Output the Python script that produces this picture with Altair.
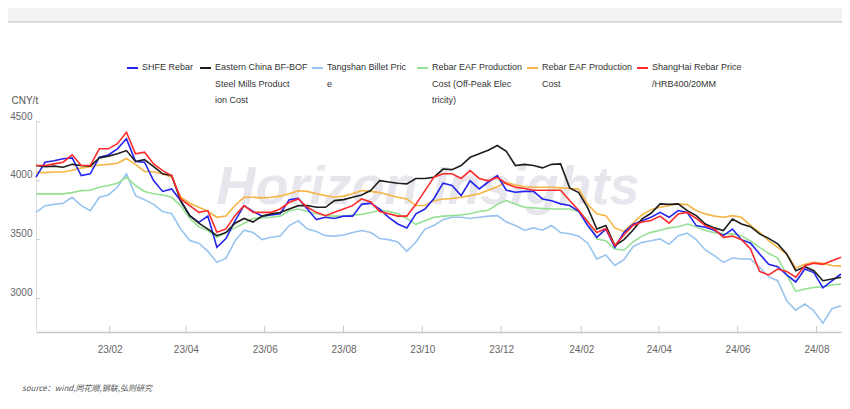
import altair as alt
import pandas as pd

# ---------------- data (weekly readings) ----------------
dates = pd.date_range("2022-12-06", periods=90, freq="7D").strftime("%Y-%m-%d").tolist()

shfe_rebar = [
    4031, 4158, 4170, 4187, 4195, 4045, 4060, 4201, 4220, 4272,
    4357, 4165, 4158, 4002, 3910, 3931, 3830, 3704, 3647, 3700,
    3435, 3509, 3660, 3790, 3740, 3700, 3710, 3720, 3840, 3850,
    3760, 3670, 3690, 3680, 3700, 3700, 3800, 3810, 3760, 3690,
    3633, 3600, 3720, 3760, 3850, 3980, 3960, 3874, 4000, 3931,
    3990, 4045, 3920, 3903, 3910, 3910, 3846, 3830, 3804, 3790,
    3740, 3620, 3520, 3590, 3435, 3560, 3630, 3660, 3690, 3732,
    3690, 3747, 3730, 3619, 3605, 3580, 3534, 3590, 3500, 3470,
    3378, 3290, 3270, 3200, 3140, 3250, 3220, 3090, 3150, 3208]

eastern_cost = [
    4130, 4120, 4125, 4116, 4140, 4130, 4125, 4195, 4210, 4230,
    4257, 4165, 4180, 4120, 4060, 4045, 3830, 3704, 3640, 3590,
    3534, 3560, 3640, 3680, 3650, 3700, 3719, 3730, 3760, 3789,
    3790, 3775, 3775, 3832, 3840, 3860, 3880, 3917, 4002, 3990,
    3980, 3974, 4020, 4020, 4031, 4100, 4095, 4130, 4200, 4230,
    4260, 4300, 4250, 4130, 4140, 4130, 4110, 4140, 4144, 3940,
    3900, 3770, 3590, 3620, 3449, 3500, 3580, 3676, 3724, 3804,
    3800, 3804, 3747, 3704, 3633, 3600, 3577, 3676, 3633, 3610,
    3549, 3511, 3464, 3378, 3236, 3270, 3236, 3151, 3165, 3180]

tangshan_billet = [
    3732, 3789, 3800, 3810, 3860, 3789, 3747, 3860, 3880, 3945,
    4060, 3874, 3840, 3800, 3740, 3720, 3591, 3492, 3470, 3400,
    3307, 3340, 3490, 3580, 3560, 3500, 3520, 3530, 3620, 3660,
    3590, 3570, 3534, 3530, 3540, 3560, 3577, 3560, 3510, 3500,
    3480, 3400, 3480, 3590, 3620, 3670, 3690, 3690, 3680, 3690,
    3700, 3704, 3650, 3620, 3580, 3600, 3580, 3620, 3560, 3550,
    3530, 3470, 3336, 3370, 3280, 3330, 3440, 3477, 3490, 3506,
    3460, 3534, 3555, 3500, 3412, 3364, 3307, 3344, 3336, 3336,
    3264, 3185, 3151, 2981, 2900, 2953, 2896, 2790, 2913, 2938]

eaf_offpeak = [
    3889, 3889, 3889, 3889, 3900, 3917, 3920, 3945, 3960, 3980,
    4031, 3960, 3910, 3890, 3880, 3860, 3789, 3680, 3610, 3577,
    3520, 3560, 3600, 3640, 3680, 3685, 3690, 3700, 3745, 3760,
    3740, 3720, 3704, 3700, 3700, 3710, 3715, 3730, 3747, 3740,
    3720, 3680, 3630, 3660, 3690, 3700, 3704, 3710, 3720, 3740,
    3750, 3800, 3832, 3800, 3775, 3770, 3765, 3761, 3761, 3760,
    3740, 3660, 3506, 3490, 3420, 3410, 3480, 3530, 3562, 3580,
    3600, 3610, 3633, 3610, 3577, 3560, 3549, 3549, 3534, 3486,
    3435, 3384, 3344, 3200, 3060, 3080, 3094, 3100, 3115, 3123]

eaf_cost = [
    4073, 4070, 4075, 4075, 4090, 4110, 4120, 4135, 4140, 4150,
    4190, 4140, 4080, 4075, 4060, 4030, 3860, 3810, 3775, 3740,
    3690, 3700, 3790, 3860, 3860, 3855, 3860, 3870, 3890, 3915,
    3910, 3890, 3874, 3860, 3870, 3890, 3917, 3910, 3900, 3880,
    3860, 3846, 3790, 3790, 3830, 3846, 3850, 3860, 3874, 3890,
    3920, 3950, 3988, 3965, 3950, 3945, 3945, 3945, 3940, 3935,
    3930, 3800, 3720, 3704, 3600, 3570, 3640, 3710, 3755, 3775,
    3790, 3804, 3798, 3747, 3719, 3700, 3690, 3704, 3690, 3619,
    3562, 3492, 3435, 3378, 3260, 3290, 3307, 3300, 3280, 3275]

shanghai_rebar = [
    4130, 4130, 4144, 4158, 4221, 4130, 4130, 4272, 4272, 4316,
    4413, 4229, 4243, 4144, 4087, 4045, 3846, 3789, 3732, 3747,
    3562, 3591, 3704, 3789, 3732, 3732, 3732, 3761, 3818, 3846,
    3775, 3732, 3704, 3732, 3760, 3789, 3846, 3820, 3740, 3720,
    3700, 3700, 3800, 3917, 4031, 4060, 4060, 4020, 4087, 4020,
    4000, 4030, 3975, 3945, 3935, 3920, 3920, 3920, 3920, 3832,
    3750, 3650, 3560, 3594, 3450, 3540, 3620, 3650, 3662, 3700,
    3640, 3719, 3732, 3680, 3619, 3590, 3520, 3530, 3500, 3420,
    3230, 3200, 3250, 3230, 3180, 3279, 3300, 3290, 3320, 3350]

series_names = [
    "SHFE Rebar",
    "Eastern China BF-BOF Steel Mills Production Cost",
    "Tangshan Billet Price",
    "Rebar EAF Production Cost (Off-Peak Electricity)",
    "Rebar EAF Production Cost",
    "ShangHai Rebar Price /HRB400/20MM",
]
legend_text = [
    "SHFE Rebar",
    "Eastern China BF-BOF\nSteel Mills Product\nion Cost",
    "Tangshan Billet Pric\ne",
    "Rebar EAF Production\nCost (Off-Peak Elec\ntricity)",
    "Rebar EAF Production\nCost",
    "ShangHai Rebar Price\n/HRB400/20MM",
]
series_values = [shfe_rebar, eastern_cost, tangshan_billet, eaf_offpeak, eaf_cost, shanghai_rebar]
colors = ["#2424ee", "#1e1e1e", "#98c4ef", "#96e092", "#f5b443", "#ff2a2a"]

x_tick_dates = ["2023-02-01", "2023-04-01", "2023-06-01", "2023-08-01", "2023-10-01",
                "2023-12-01", "2024-02-01", "2024-04-01", "2024-06-01", "2024-08-01"]
y_tick_values = [3000, 3500, 4000, 4500]
source_text = "source：wind,同花顺,钢联,弘则研究"
watermark_text = "Horizon Insights"

# ---------------- layout ----------------
W, H = 805, 210
legend_x = [106, 179, 291, 396, 506, 616]
FONT = "Liberation Sans, Arial, sans-serif"

rows = []
for name, vals in zip(series_names, series_values):
    for d, v in zip(dates, vals):
        rows.append({"date": d, "series": name, "value": v})
df = pd.DataFrame(rows)


def ms(s):
    return int(pd.Timestamp(s, tz="UTC").value // 10**6)


x_scale = alt.Scale(type="utc", domain=[ms("2022-12-06"), ms("2024-08-20")], nice=False)
y_scale = alt.Scale(domain=[2715, 4500], nice=False, zero=False)
color_scale = alt.Scale(domain=series_names, range=colors)

x_axis = alt.Axis(values=[ms(d) for d in x_tick_dates], format="%y/%m", ticks=False,
                  grid=False, domainColor="#c8c8c8", domainWidth=1.5, labelColor="#666",
                  labelFontSize=10, labelFont=FONT, labelPadding=12, title=None)
y_axis = alt.Axis(values=y_tick_values, format="d", ticks=False, grid=False,
                  domainColor="#dcdcdc", labelColor="#666", labelFontSize=10, labelFont=FONT,
                  labelPadding=4, labelOffset=-6, title="CNY/t", titleAngle=0,
                  titleAlign="left", titleBaseline="middle", titleX=-25, titleY=-22,
                  titleFontWeight="normal", titleFontSize=10, titleColor="#555",
                  titleFont=FONT)

X = alt.X("date:T", scale=x_scale, axis=x_axis)
Y = alt.Y("value:Q", scale=y_scale, axis=y_axis)

one = pd.DataFrame({"k": [0]})

# header band of the card
band = alt.Chart(one).mark_rect(color="#f2f2f2").encode(
    x=alt.value(-28), x2=alt.value(806), y=alt.value(-114), y2=alt.value(-101))
band_line = alt.Chart(one).mark_rule(color="#dadada", strokeWidth=2).encode(
    x=alt.value(-28), x2=alt.value(806), y=alt.value(-100))

watermark = alt.Chart(one).mark_text(
    text=watermark_text, fontSize=54, fontStyle="italic", fontWeight="bold",
    font=FONT, color="#e6e6ec", align="center", baseline="middle"
).encode(x=alt.value(392), y=alt.value(66))

draw_order = [2, 3, 4, 0, 1, 5]
lines = []
for i in draw_order:
    name = series_names[i]
    lines.append(
        alt.Chart(df).transform_filter(alt.datum.series == name)
        .mark_line(strokeWidth=1.6)
        .encode(x=X, y=Y, color=alt.Color("series:N", scale=color_scale, legend=None))
    )

xt = alt.Chart(pd.DataFrame({"date": x_tick_dates})).mark_rule(color="#c8c8c8").encode(
    x=X, y=alt.value(H - 6), y2=alt.value(H))
yt = alt.Chart(pd.DataFrame({"value": y_tick_values})).mark_rule(color="#c8c8c8").encode(
    y=Y, x=alt.value(0), x2=alt.value(4))

leg_df = pd.DataFrame({"series": series_names, "label": legend_text, "lx": legend_x})
leg_sym = alt.Chart(leg_df).transform_calculate(
    x0="datum.lx - 15", x1="datum.lx - 4"
).mark_rule(strokeWidth=2).encode(
    x=alt.X("x0:Q", scale=None), x2="x1:Q", y=alt.value(-54),
    color=alt.Color("series:N", scale=color_scale, legend=None))
leg_txt = alt.Chart(leg_df).mark_text(
    align="left", baseline="top", fontSize=9, font=FONT, color="#333",
    lineBreak="\n", lineHeight=16.7
).encode(x=alt.X("lx:Q", scale=None), y=alt.value(-59), text="label:N")

source = alt.Chart(one).mark_text(
    text=source_text, align="left", baseline="middle", fontSize=8, fontStyle="italic",
    font="Noto Sans CJK SC", color="#555"
).encode(x=alt.value(-14), y=alt.value(267))

chart = alt.layer(band, band_line, watermark, *lines, xt, yt, leg_sym, leg_txt, source).properties(
    width=W, height=H,
    autosize=alt.AutoSizeParams(type="none"),
    padding={"left": 28, "top": 114, "right": 1, "bottom": 69},
    background="white",
).configure_view(stroke=None)

chart.save("out.html", embed_options={"renderer": "svg", "actions": False})
